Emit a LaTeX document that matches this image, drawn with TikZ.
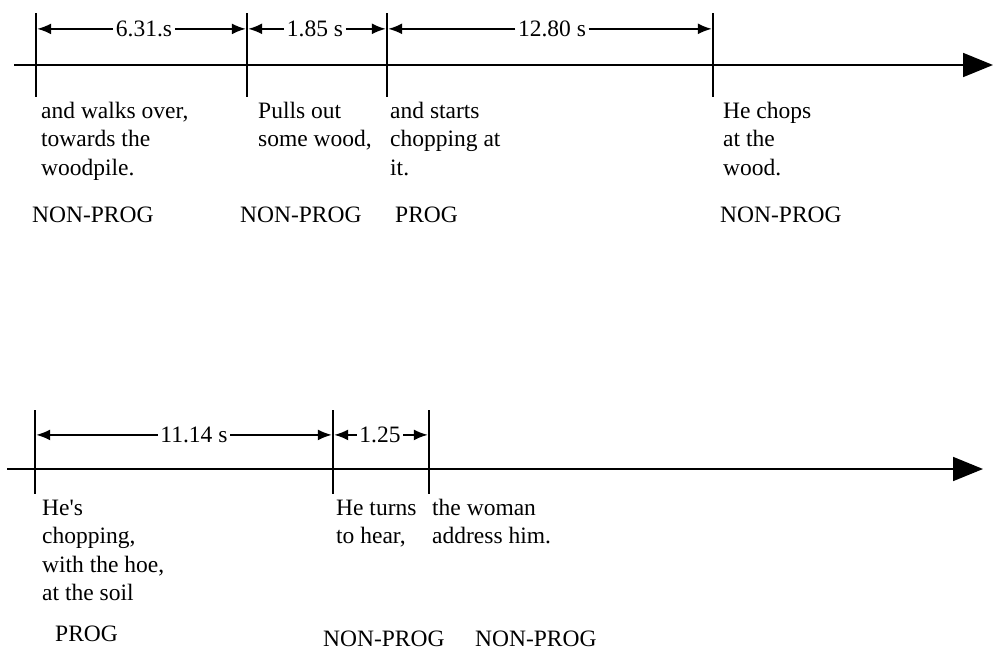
\documentclass[tikz,border=0pt]{standalone}
\usepackage{fontspec}
\setmainfont{Liberation Serif}
\usetikzlibrary{arrows.meta}
\newcommand\mylines[1]{\begin{tabular}[t]{@{}l@{}}#1\end{tabular}}
\begin{document}
\begin{tikzpicture}[x=1pt,y=-1pt,
  axisline/.style={line width=1.8pt,-{Triangle[length=30pt,width=24pt]}},
  tickline/.style={line width=2.6pt},
  dimline/.style={line width=1.8pt,-{Latex[length=14pt,width=11pt]},shorten >=1.2pt},
  dimlabel/.style={inner xsep=2.5pt,inner ysep=0pt,anchor=base,font=\fontsize{23.5}{28.5}\selectfont},
  txt/.style={inner sep=0pt,anchor=base west,font=\fontsize{23.5}{28.5}\selectfont},
]
\useasboundingbox (0,0) rectangle (998,653);

% ---------- row 1 ----------
\coordinate (r1s) at (14,65);
\coordinate (r1e) at (993,65);
\foreach \n/\x in {1/36,2/247,3/387,4/713}{
  \coordinate (p\n u) at (\x,13);
  \coordinate (p\n d) at (\x,97);
}
\draw[axisline] (r1s) -- (r1e);
\foreach \n in {1,2,3,4}{\draw[tickline] (p\n u) -- (p\n d);}

\node[dimlabel] (l1) at (144,36.5) {6.31.s};
\node[dimlabel] (l2) at (315,36.5) {1.85 s};
\node[dimlabel] (l3) at (552,36.5) {12.80 s};
\draw[dimline] (l1.west) -- (p1u |- l1.west);
\draw[dimline] (l1.east) -- (p2u |- l1.east);
\draw[dimline] (l2.west) -- (p2u |- l2.west);
\draw[dimline] (l2.east) -- (p3u |- l2.east);
\draw[dimline] (l3.west) -- (p3u |- l3.west);
\draw[dimline] (l3.east) -- (p4u |- l3.east);

\node[txt] (e1) at (41,118) {\mylines{and walks over,\\towards the\\woodpile.}};
\node[txt] (e2) at (258,118) {\mylines{Pulls out\\some wood,}};
\node[txt] (e3) at (390,118) {\mylines{and starts\\chopping at\\it.}};
\node[txt] (e4) at (723,118) {\mylines{He chops\\at the\\wood.}};

\node[txt] (c1) at (32,222) {NON-PROG};
\node[txt] (c2) at (240,222) {NON-PROG};
\node[txt] (c3) at (395,222) {PROG};
\node[txt] (c4) at (720,222) {NON-PROG};

% ---------- row 2 ----------
\coordinate (r2s) at (7,469);
\coordinate (r2e) at (983,469);
\foreach \n/\x in {5/35,6/333,7/429}{
  \coordinate (p\n u) at (\x,410);
  \coordinate (p\n d) at (\x,494);
}
\draw[axisline] (r2s) -- (r2e);
\foreach \n in {5,6,7}{\draw[tickline] (p\n u) -- (p\n d);}

\node[dimlabel] (l5) at (194,442.5) {11.14 s};
\node[dimlabel] (l6) at (380,442.5) {1.25};
\draw[dimline] (l5.west) -- (p5u |- l5.west);
\draw[dimline] (l5.east) -- (p6u |- l5.east);
\draw[dimline] (l6.west) -- (p6u |- l6.west);
\draw[dimline] (l6.east) -- (p7u |- l6.east);

\node[txt] (e5) at (42,515) {\mylines{He\textquotesingle s\\chopping,\\with the hoe,\\at the soil}};
\node[txt] (e6) at (336,515) {\mylines{He turns\\to hear,}};
\node[txt] (e7) at (432,515) {\mylines{the woman\\address him.}};

\node[txt] (c5) at (55,641) {PROG};
\node[txt] (c6) at (323,646) {NON-PROG};
\node[txt] (c7) at (475,646) {NON-PROG};
\end{tikzpicture}
\end{document}
